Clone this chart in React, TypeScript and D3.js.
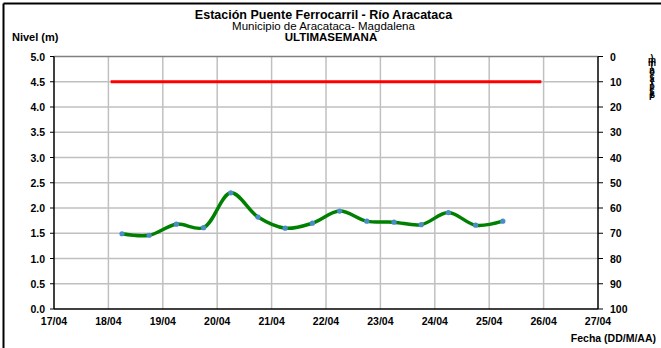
import React from 'react'
import * as d3 from 'd3'

// nivel (m) cada 12 horas
const levelTimes = [
  '2024-04-18T06:00', '2024-04-18T18:00', '2024-04-19T06:00', '2024-04-19T18:00',
  '2024-04-20T06:00', '2024-04-20T18:00', '2024-04-21T06:00', '2024-04-21T18:00',
  '2024-04-22T06:00', '2024-04-22T18:00', '2024-04-23T06:00', '2024-04-23T18:00',
  '2024-04-24T06:00', '2024-04-24T18:00', '2024-04-25T06:00',
]
const levelValues = [1.49, 1.46, 1.68, 1.61, 2.3, 1.82, 1.6, 1.7, 1.94, 1.74, 1.72, 1.67, 1.91, 1.66, 1.74]

// umbral
const alertTimes = ['2024-04-18T01:00', '2024-04-25T23:00']
const alertValue = 4.5

const dayTicks = ['17/04', '18/04', '19/04', '20/04', '21/04', '22/04', '23/04', '24/04', '25/04', '26/04', '27/04']
const levelTicks = [0, 0.5, 1, 1.5, 2, 2.5, 3, 3.5, 4, 4.5, 5]
const rainTicks = [0, 10, 20, 30, 40, 50, 60, 70, 80, 90, 100]

const font = "'Liberation Sans', Arial, sans-serif"

const App = () => {
  const left = 54
  const right = 598
  const top = 56.5
  const bottom = 309

  const x = d3
    .scaleTime()
    .domain([new Date('2024-04-17T00:00'), new Date('2024-04-27T00:00')])
    .range([left, right])
  const y = d3.scaleLinear().domain([0, 5]).range([bottom, top])
  const yRain = d3.scaleLinear().domain([0, 100]).range([top, bottom])

  const dayDates = dayTicks.map((d, i) => new Date(2024, 3, 17 + i))

  const level = levelTimes.map((t, i) => ({ date: new Date(t), v: levelValues[i] }))
  const line = d3
    .line<{ date: Date; v: number }>()
    .x((d) => x(d.date))
    .y((d) => y(d.v))
    .curve(d3.curveCatmullRom.alpha(0.5))

  const alert = alertTimes.map((t) => ({ date: new Date(t), v: alertValue }))
  const straight = d3
    .line<{ date: Date; v: number }>()
    .x((d) => x(d.date))
    .y((d) => y(d.v))

  const rainTitle = 'Precipitación (mm)'.split('').reverse()

  return (
    <svg width={661} height={348} style={{ position: 'absolute', left: 0, top: 0 }} fontFamily={font}>
      <rect x={0} y={0} width={661} height={348} fill="#fff" />
      {/* marco */}
      <line x1={3.5} x2={661} y1={3.5} y2={3.5} stroke="#000" strokeWidth={2} />
      <line x1={3.5} x2={3.5} y1={3.5} y2={348} stroke="#000" strokeWidth={2} />

      <text x={323.5} y={19} textAnchor="middle" fontSize={12.5} fontWeight="bold" fill="#000">
        Estación Puente Ferrocarril - Río Aracataca
      </text>
      <text x={323.5} y={30} textAnchor="middle" fontSize={11.5} fill="#000">
        Municipio de Aracataca- Magdalena
      </text>
      <text x={331} y={41} textAnchor="middle" fontSize={11.5} fontWeight="bold" fill="#000">
        ULTIMASEMANA
      </text>
      <text x={12} y={41} fontSize={11} fontWeight="bold">
        Nivel (m)
      </text>

      {/* rejilla */}
      {levelTicks.slice(1, -1).map((t) => (
        <line key={'h' + t} x1={left} x2={right} y1={y(t)} y2={y(t)} stroke="#c0c0c0" strokeWidth={1.5} />
      ))}
      {dayDates.slice(1, -1).map((d, i) => (
        <line key={'v' + i} x1={x(d)} x2={x(d)} y1={top} y2={bottom} stroke="#c0c0c0" strokeWidth={1.5} />
      ))}
      <line x1={left} x2={right} y1={top} y2={top} stroke="#808080" strokeWidth={1.5} />

      {/* ejes */}
      <line x1={left} x2={left} y1={top} y2={bottom} stroke="#000" strokeWidth={1.5} />
      <line x1={right} x2={right} y1={top} y2={bottom} stroke="#000" strokeWidth={1.5} />
      <line x1={left} x2={right} y1={bottom} y2={bottom} stroke="#000" strokeWidth={1.5} />
      {levelTicks.map((t) => (
        <g key={'yl' + t}>
          <line x1={left - 4} x2={left} y1={y(t)} y2={y(t)} stroke="#000" strokeWidth={1} />
          <text x={45} y={y(t) + 4} textAnchor="end" fontSize={10.5} fontWeight="bold">
            {d3.format('.1f')(t)}
          </text>
        </g>
      ))}
      {rainTicks.map((t) => (
        <g key={'yr' + t}>
          <line x1={right} x2={right + 5} y1={yRain(t)} y2={yRain(t)} stroke="#000" strokeWidth={1} />
          <text x={610} y={yRain(t) + 4} fontSize={10.5} fontWeight="bold">
            {t}
          </text>
        </g>
      ))}
      {dayDates.map((d, i) => (
        <text key={'x' + i} x={x(d)} y={325} textAnchor="middle" fontSize={10.5} fontWeight="bold">
          {dayTicks[i]}
        </text>
      ))}
      <text x={656} y={342} textAnchor="end" fontSize={10.5} fontWeight="bold">
        Fecha (DD/M/AA)
      </text>

      {/* titulo precipitacion apilado */}
      {rainTitle.map((c, i) => (
        <text key={'p' + i} x={652} y={61 + i * 2.3} textAnchor="middle" fontSize={9} fontWeight="bold">
          {c}
        </text>
      ))}

      <path d={straight(alert) ?? ''} fill="none" stroke="#ff0000" strokeWidth={3} />
      <path d={line(level) ?? ''} fill="none" stroke="#008000" strokeWidth={3.5} />
      {level.map((d, i) => (
        <circle key={'c' + i} cx={x(d.date)} cy={y(d.v)} r={2.6} fill="#4a8cc4" />
      ))}
    </svg>
  )
}

export default App
